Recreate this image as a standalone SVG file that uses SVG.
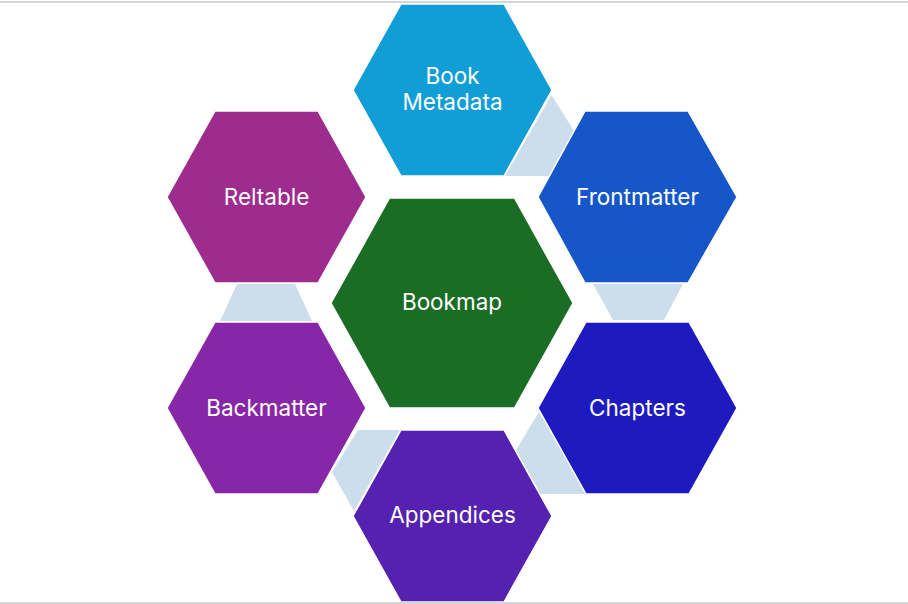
<svg xmlns="http://www.w3.org/2000/svg" width="908" height="604" viewBox="0 0 908 604">
  <style>
    .hex { stroke: #ffffff; stroke-width: 1.5; stroke-linejoin: miter; }
    .conn { fill: #CCDDEB; stroke: none; }
    .lbl { font-family: Inter, "Noto Sans", "Liberation Sans", sans-serif; font-size: 22.5px; fill: #ffffff; text-anchor: middle; dominant-baseline: central; }
    .frame { stroke: #C8C8CC; stroke-width: 1.5; }
  </style>
  <rect x="0" y="0" width="908" height="604" fill="#ffffff"/>
  <line class="frame" x1="0" y1="2" x2="908" y2="2"/>
  <g id="connectors">
    <polygon class="conn" points="551.5,95 574,131 550,176 505,176"/>
    <polygon class="conn" points="593,284 683,284 664,320 613,320"/>
    <polygon class="conn" points="539,412 516,450 539,494 587,494"/>
    <polygon class="conn" points="358,430 400,430 354,511 332,472"/>
    <polygon class="conn" points="237,284 295,284 312,321 220,321"/>
  </g>
  <g id="book-metadata">
    <polygon class="hex" fill="#119ED6" points="401,4 504,4 552,90 504,176 401,176 353,90"/>
    <text class="lbl" x="452.5" y="75">Book</text>
    <text class="lbl" x="452.5" y="101">Metadata</text>
  </g>
  <g id="frontmatter">
    <polygon class="hex" fill="#1656C8" points="585,111 688,111 737,197 688,283 585,283 538,197"/>
    <text class="lbl" x="637.5" y="196">Frontmatter</text>
  </g>
  <g id="chapters">
    <polygon class="hex" fill="#1D1ABF" points="586,322 689,322 737,408 689,494 586,494 538,408"/>
    <text class="lbl" x="637.5" y="407">Chapters</text>
  </g>
  <g id="appendices">
    <polygon class="hex" fill="#5421B1" points="401,430 504,430 552,516 504,602 401,602 353,516"/>
    <text class="lbl" x="452.5" y="514">Appendices</text>
  </g>
  <g id="backmatter">
    <polygon class="hex" fill="#8727A8" points="215,322 318,322 366,408 318,494 215,494 167,408"/>
    <text class="lbl" x="266.5" y="407">Backmatter</text>
  </g>
  <g id="reltable">
    <polygon class="hex" fill="#9E2B8E" points="215,111 318,111 366,197 318,283 215,283 167,197"/>
    <text class="lbl" x="266.5" y="196">Reltable</text>
  </g>
  <g id="bookmap">
    <polygon class="hex" fill="#1B6C25" points="389.5,198 514.5,198 573,303 514.5,408 389.5,408 331,303"/>
    <text class="lbl" x="452" y="301">Bookmap</text>
  </g>
  <line class="frame" x1="0" y1="603" x2="908" y2="603"/>
</svg>
